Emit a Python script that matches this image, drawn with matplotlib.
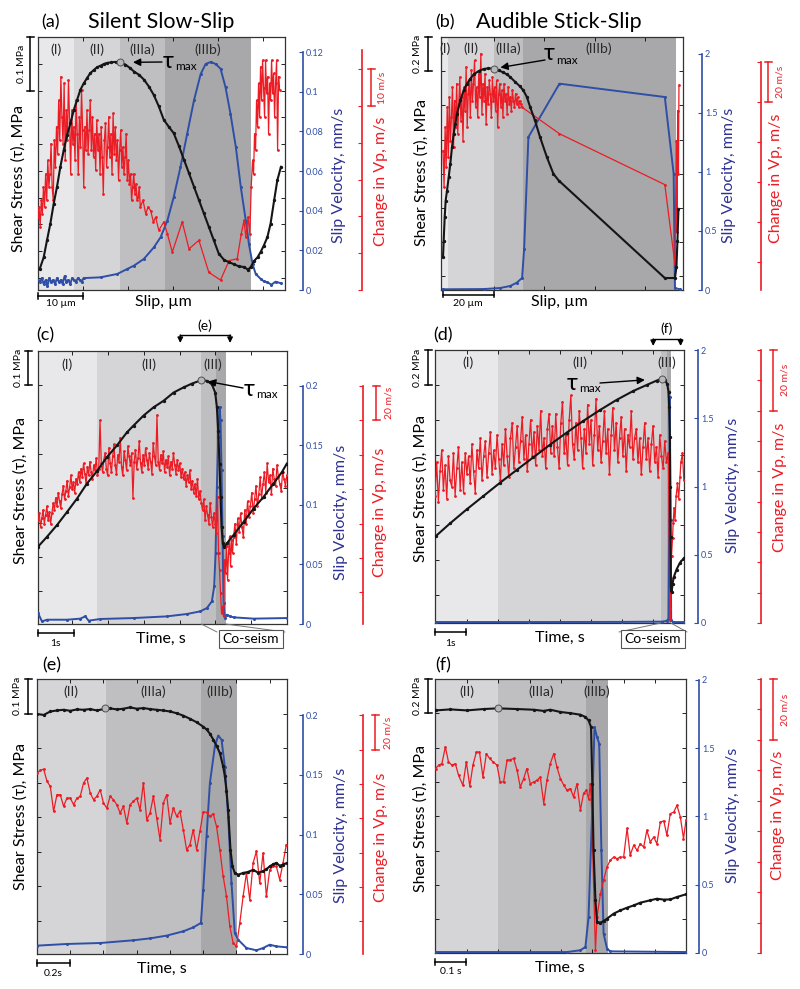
import numpy as np
import matplotlib
matplotlib.use('Agg')
import matplotlib.pyplot as plt
from matplotlib.transforms import blended_transform_factory as blend
from matplotlib.patches import ConnectionPatch
from matplotlib.ticker import FormatStrFormatter

plt.rcParams['font.family'] = ['Lato', 'DejaVu Sans']

W, H = 800, 989
RED = '#ec1c24'
BLUE = '#2f4fa6'
BLUE_T = '#2e3192'
BLACK = '#151515'
C_I, C_II, C_IIIa, C_IIIb = '#e8e8ea', '#d5d5d7', '#bfbfc1', '#a8a8aa'

# ---------------- (a) silent slow-slip, vs slip (um) ----------------
a_phase_x = [0, 7.93, 18.3, 28.1, 47.3]
a_black_x = [0.37, 1.26, 2.0, 2.74, 3.48, 4.22, 4.96, 5.7, 6.44, 7.19, 7.93, 8.67, 9.41, 10.15, 10.9,
             11.6, 12.4, 13.1, 13.9, 14.6, 15.3, 16.1, 17.2, 18.3, 19.4, 20.5, 21.3, 22.4, 23.5, 24.6,
             25.7, 26.8, 27.9, 29.0, 30.1, 31.3, 32.4, 33.5, 34.6, 35.7, 36.8, 37.9, 39.0, 40.1, 41.3,
             42.4, 43.5, 44.6, 45.7, 46.6, 47.2, 47.9, 48.7, 49.4, 50.1, 50.9, 51.6, 52.4, 53.1, 53.9]
a_black_y = [0.039, 0.061, 0.093, 0.124, 0.161, 0.193, 0.230, 0.261, 0.289, 0.311, 0.336, 0.355, 0.374,
             0.386, 0.396, 0.405, 0.411, 0.416, 0.419, 0.422, 0.424, 0.425, 0.426, 0.424, 0.421, 0.414,
             0.408, 0.402, 0.393, 0.380, 0.364, 0.343, 0.318, 0.305, 0.293, 0.268, 0.243, 0.218, 0.193,
             0.168, 0.143, 0.118, 0.093, 0.068, 0.056, 0.052, 0.048, 0.044, 0.043, 0.038, 0.043, 0.054,
             0.061, 0.071, 0.083, 0.099, 0.124, 0.168, 0.205, 0.230]
a_blue_dense = [0.005, 0.004, 0.006, 0.003, 0.005, 0.002, 0.006, 0.004, 0.005, 0.003, 0.006, 0.004, 0.005,
                0.003, 0.007, 0.004, 0.005, 0.003, 0.006, 0.005, 0.004, 0.006, 0.005, 0.004, 0.006]
a_blue_x = [13.9, 17.6, 19.8, 21.3, 23.5, 25.7, 27.2, 28.7, 30.1, 31.6, 33.1, 34.6, 36.1, 37.2, 38.3, 39.4,
            40.5, 41.6, 42.7, 43.9, 45.0, 46.1, 46.8, 47.6, 48.3, 49.4, 50.1, 50.9, 51.8, 52.7, 53.9]
a_blue_y = [0.0064, 0.0081, 0.0106, 0.0123, 0.0157, 0.0215, 0.0266, 0.035, 0.0468, 0.0619, 0.0788, 0.0956,
            0.109, 0.114, 0.115, 0.114, 0.1116, 0.1023, 0.0889, 0.072, 0.0518, 0.035, 0.0232, 0.0131,
            0.0081, 0.0056, 0.0044, 0.0039, 0.0027, 0.0042, 0.0034]
a_red_dense1 = [19.8, 22.5, 17.1, 24.4, 20.7, 28.0, 22.5, 31.6, 24.4, 35.3, 28.0, 31.6, 39.8, 28.0, 24.4,
                40.7, 33.5, 44.4, 37.1, 51.6, 40.7, 58.0, 47.1, 39.8, 56.2, 35.3, 48.9, 40.7, 57.1, 46.2,
                31.6, 48.9, 39.8, 44.4, 35.3, 51.6, 42.5, 31.6, 47.1, 38.9, 54.4, 43.5, 28.0, 44.4, 38.0,
                48.9, 37.1, 43.5, 51.6, 38.0, 47.1, 36.2, 42.5, 32.5, 46.2, 38.0, 42.5, 31.6, 44.4, 36.2,
                26.2, 40.7, 45.3, 33.5, 38.9, 47.1, 36.2, 42.5, 31.6, 48.0, 37.1, 44.4, 35.3, 40.7, 29.8,
                38.0, 43.5, 33.5, 38.9, 31.6, 36.2, 42.5, 29.8, 35.3, 28.9, 31.6, 24.4, 28.0, 31.6, 26.2,
                28.9, 24.4, 25.3, 28.0, 22.5]
a_red_x = [23.3, 23.9, 24.4, 25.0, 25.6, 26.1, 26.8, 27.9, 28.7, 29.8, 32.0, 33.5, 35.7, 37.9, 40.5, 42.4,
           44.2, 45.1, 45.7, 46.1, 46.6, 47.0, 47.3]
a_red_y = [24.4, 20.7, 22.5, 21.6, 18.5, 19.8, 16.2, 18.5, 15.3, 10.3, 18.5, 11.2, 13.5, 4.8, 2.7, 8.0,
           8.5, 15.3, 18.9, 14.4, 19.8, 15.3, 28.0]
a_red_dense2 = [35.3, 31.6, 42.5, 38.0, 51.6, 44.4, 56.2, 47.1, 60.7, 51.6, 62.5, 54.9, 47.1, 62.5, 53.5,
                58.0, 42.5, 56.2, 51.6, 62.5, 53.5, 58.9, 47.1, 56.2, 62.5, 38.0, 58.0, 54.4]

# ---------------- (b) audible stick-slip, vs slip (um) ----------------
b_phase_x = [-0.8, 1.84, 20.0, 31.6, 92.4]
b_black_x = [0, 0.26, 0.66, 1.05, 1.58, 2.24, 2.89, 3.55, 4.21, 4.87, 5.53, 6.84, 8.16, 9.47, 10.8, 12.1,
             14.1, 16.1, 18.0, 20.0, 22.0, 23.9, 25.3, 26.6, 28.6, 30.5, 31.8, 33.2, 34.5, 36.4, 38.4,
             41.1, 43.7, 45.8, 87.8, 91.8, 92.4, 92.8, 93.2]
b_black_y = [0.191, 0.289, 0.425, 0.523, 0.581, 0.660, 0.738, 0.835, 0.913, 0.972, 1.030, 1.108, 1.167,
             1.206, 1.235, 1.260, 1.280, 1.292, 1.296, 1.294, 1.284, 1.272, 1.260, 1.245, 1.216, 1.190,
             1.167, 1.128, 1.069, 0.991, 0.894, 0.777, 0.679, 0.640, 0.070, 0.070, 0.133, 0.289, 0.474]
b_blue_x = [0, 16.1, 22.6, 26.6, 29.2, 31.3, 32.1, 33.8, 46.1, 87.8, 91.3, 91.8, 93.7]
b_blue_y = [0.006, 0.008, 0.017, 0.034, 0.062, 0.102, 0.347, 1.294, 1.746, 1.633, 0.983, 0.017, 0.006]
b_red_dense = [55.8, 37.5, 67.5, 47.5, 77.5, 52.5, 82.5, 60.8, 72.5, 87.5, 57.5, 80.8, 67.5, 89.2, 64.2,
               79.2, 92.5, 70.8, 82.5, 60.8, 87.5, 75.8, 97.5, 67.5, 84.2, 90.8, 72.5, 95.8, 80.8, 89.2,
               100.8, 77.5, 87.5, 72.5, 94.2, 82.5, 104.2, 74.2, 89.2, 80.8, 94.2, 69.2, 87.5, 79.2, 90.8,
               84.2, 72.5, 92.5, 80.8, 87.5, 75.8, 90.8, 67.5, 84.2, 89.2, 77.5, 85.8, 72.5, 89.2, 80.8,
               84.2, 74.2, 87.5, 79.2, 82.5, 75.8, 85.8, 80.8, 77.5, 84.2, 79.2, 82.5, 77.5, 80.8, 79.2, 77.5]
b_red_x = [46.1, 87.8, 91.8, 92.1, 92.4, 92.6, 92.9, 93.2, 93.4]
b_red_y = [64.2, 38.8, -0.8, 30.8, 60.8, 15.0, 75.8, 44.2, 88.3]

# ---------------- (c) silent slow-slip, vs time (s) ----------------
c_phase_x = [0.047, 1.693, 4.605, 5.023, 5.284]
c_black_x = [0.047, 0.298, 0.577, 0.856, 1.135, 1.414, 1.693, 1.972, 2.251, 2.530, 2.716, 2.995, 3.274,
             3.553, 3.833, 4.112, 4.344, 4.605, 4.763, 4.902, 4.995, 5.042, 5.079, 5.116, 5.144, 5.172,
             5.209, 5.247, 5.321, 5.507, 5.786, 6.065, 6.344, 6.623, 6.856, 6.995]
c_black_y = [0.230, 0.259, 0.293, 0.331, 0.370, 0.414, 0.450, 0.491, 0.525, 0.563, 0.583, 0.612, 0.636,
             0.655, 0.679, 0.694, 0.705, 0.715, 0.713, 0.703, 0.679, 0.636, 0.568, 0.472, 0.375, 0.288,
             0.240, 0.228, 0.240, 0.264, 0.302, 0.341, 0.375, 0.414, 0.447, 0.472]
c_blue_x = [0.047, 0.158, 0.298, 0.856, 1.228, 1.367, 1.460, 1.786, 2.716, 3.647, 4.205, 4.577, 4.763,
            4.902, 4.967, 5.005, 5.042, 5.079, 5.116, 5.144, 5.172, 5.200, 5.228, 5.265, 5.321, 5.414,
            5.507, 6.065, 6.995]
c_blue_y = [0.0092, 0.0022, 0.0036, 0.0036, 0.0045, 0.0064, 0.0028, 0.0042, 0.005, 0.0064, 0.0084, 0.0106,
            0.0134, 0.019, 0.0316, 0.0595, 0.115, 0.157, 0.182, 0.171, 0.129, 0.0735, 0.0176, 0.005,
            0.0078, 0.0064, 0.0056, 0.0045, 0.005]
c_red_dense1 = [62, 66, 58, 63, 68, 60, 65, 70, 62, 67, 60, 66,
                72, 68, 75, 70, 78, 73, 69, 77, 82, 74, 79, 85, 76, 81, 88, 80, 84, 78, 86, 83,
                90, 84, 92, 87, 95, 89, 83, 93, 88, 96, 90, 86, 94, 91, 98, 88, 92, 120, 95, 90,
                97, 101, 92, 88, 104, 95, 90, 99, 106, 94, 89, 100, 96, 110, 93, 88, 102, 97, 91, 105,
                99, 94, 101, 75, 96, 103, 92, 98, 108, 95, 90, 100, 94, 104, 97, 92, 101, 96, 89, 107,
                99, 94, 123, 96, 91, 100, 95, 102, 90, 97, 93, 99, 88, 96, 92, 101, 94, 89, 97, 91, 95, 87,
                92, 86, 90, 82, 88, 84, 91, 80, 85, 78, 83, 76, 86, 74, 79, 72,
                68, 74, 62, 70, 65, 60, 72, 64, 58, 66, 60]
c_red_x = [5.023, 5.060, 5.088, 5.116, 5.144, 5.172, 5.200, 5.228, 5.256, 5.284, 5.312, 5.340, 5.367,
           5.395, 5.423, 5.451, 5.479]
c_red_y = [54.4, 75.7, 42.8, 33.1, 19.6, 8.0, 11.9, 6.1, 38.9, 31.2, 46.7, 27.4, 42.8, 52.5, 35.1, 50.5, 42.8]
c_red_dense2 = [52, 60, 48, 63, 55, 66, 58, 52, 68, 60, 73, 64, 70, 78, 66, 74, 82, 70, 77, 87, 75, 83, 90,
                78, 95, 84, 88, 77, 92, 86, 82, 94, 87, 83, 79, 90, 86, 82, 88]

# ---------------- (d) audible stick-slip, vs time (s) ----------------
d_phase_x = [-0.02, 1.994, 7.245, 7.428, 7.567]
d_black_x = [0, 0.461, 0.997, 1.533, 2.069, 2.605, 3.140, 3.676, 4.212, 4.748, 5.284, 5.820, 6.356, 6.785,
             7.106, 7.267, 7.374, 7.449, 7.492, 7.513, 7.535, 7.546, 7.556, 7.567, 7.588, 7.621, 7.663,
             7.749, 7.856, 7.985]
d_black_y = [0.531, 0.604, 0.684, 0.760, 0.836, 0.909, 0.981, 1.053, 1.122, 1.189, 1.251, 1.309, 1.360,
             1.394, 1.419, 1.430, 1.423, 1.400, 1.356, 1.270, 1.099, 0.813, 0.528, 0.242, 0.213, 0.261,
             0.299, 0.341, 0.379, 0.406]
d_blue_x = [0, 3.0, 6.0, 7.267, 7.428, 7.492, 7.513, 7.535, 7.556, 7.578, 7.642, 7.985]
d_blue_y = [0.007, 0.007, 0.008, 0.010, 0.015, 0.032, 0.753, 1.658, 0.753, 0.020, 0.007, 0.007]
d_red_dense = [42, 53, 40, 50, 57, 44, 52, 41, 55, 47, 45, 56, 42, 51, 58, 44, 53, 43, 56, 49,
               55, 46, 59, 50, 43, 57, 51, 61, 47, 55, 60, 48, 56, 63, 49, 57, 51, 62, 54, 47,
               59, 52, 64, 55, 48, 61, 66, 51, 58, 65, 53, 60, 68, 54, 62, 50, 59, 67, 55, 63,
               52, 65, 57, 70, 55, 61, 51, 64, 69, 56,
               65, 55, 69, 58, 51, 66, 73, 56, 62, 52, 67, 75, 59, 54, 66, 57, 70, 61, 51, 64,
               56, 72, 59, 67, 52, 62, 74, 57, 65, 53, 60, 70, 56, 64, 49, 62, 71, 57, 66, 53,
               61, 68, 55, 64, 50, 62, 58, 70, 54, 61,
               64, 53, 61, 49, 58, 66, 54, 61, 50, 59, 65, 53, 58, 48, 62, 55, 51, 60, 53, 56]
d_red_x = [7.492, 7.513, 7.535, 7.546, 7.567, 7.588, 7.621, 7.642, 7.67, 7.70, 7.738, 7.78, 7.82, 7.86,
           7.89, 7.94, 7.985]
d_red_y = [50, 30, 5, 1, 15, 22, 28, 33, 38, 34, 42, 46, 41, 48, 53, 56, 47]

# ---------------- (e) zoom of (c) ----------------
e_phase_x = [0, 0.416, 0.986, 1.204]
e_black_dense = [0.697, 0.694, 0.704, 0.707, 0.709, 0.706, 0.710, 0.709, 0.711, 0.707, 0.711, 0.713, 0.710,
                 0.712, 0.716, 0.712, 0.714, 0.711, 0.709, 0.707, 0.704, 0.699, 0.692, 0.683, 0.673]
e_black_x = [1.0, 1.02, 1.04, 1.06, 1.08, 1.10, 1.12, 1.13, 1.14, 1.15, 1.164, 1.176, 1.19, 1.21, 1.24,
             1.27, 1.30, 1.33, 1.36, 1.38, 1.40, 1.42, 1.44, 1.46, 1.48, 1.504]
e_black_y = [0.660, 0.652, 0.640, 0.623, 0.605, 0.584, 0.545, 0.517, 0.475, 0.420, 0.304, 0.256, 0.237,
             0.232, 0.237, 0.240, 0.246, 0.238, 0.242, 0.248, 0.256, 0.262, 0.266, 0.258, 0.261, 0.266]
e_blue_x = [0, 0.18, 0.38, 0.58, 0.68, 0.78, 0.88, 0.94, 0.986, 1.0, 1.02, 1.04, 1.07, 1.09, 1.11, 1.13,
            1.15, 1.17, 1.19, 1.21, 1.26, 1.32, 1.36, 1.40, 1.44, 1.504]
e_blue_y = [0.007, 0.0084, 0.0092, 0.0115, 0.0131, 0.0154, 0.019, 0.0223, 0.026, 0.0539, 0.0986, 0.143,
            0.174, 0.183, 0.1796, 0.157, 0.115, 0.0595, 0.0176, 0.012, 0.005, 0.0031, 0.005, 0.0078,
            0.0064, 0.0056]
e_red = [106.4, 108.0, 108.7, 101.6, 98.6, 84.1, 93.8, 93.8, 87.0, 91.8,
         91.8, 88.0, 91.8, 92.8, 100.6, 103.5, 94.8, 90.9, 92.8, 96.7,
         88.9, 86.0, 92.8, 90.9, 88.0, 83.1, 87.0, 77.3, 88.0, 89.9,
         91.8, 85.0, 100.6, 79.2, 83.1, 92.8, 80.2, 67.6, 88.9, 93.8,
         77.3, 86.0, 81.2, 84.1, 73.4, 61.7, 64.7, 73.4, 61.7, 72.4,
         83.7, 83.5, 81.2, 82.7, 75.3, 61.7, 46.2, 34.6, 17.1, 7.4,
         5.4, 19.0, 34.6, 48.2, 32.6, 54.0, 60.8, 42.3, 59.8, 34.6,
         50.1, 52.0, 52.0, 44.3, 54.0, 64.7]

# ---------------- (f) zoom of (d) ----------------
f_phase_x = [-0.002, 0.199, 0.479, 0.549]
f_black_x = [0, 0.047, 0.100, 0.153, 0.198, 0.260, 0.313, 0.345, 0.366, 0.398, 0.430, 0.462, 0.478, 0.488,
             0.496, 0.500, 0.504, 0.510, 0.515, 0.526, 0.536, 0.547, 0.568, 0.589, 0.611, 0.632, 0.653,
             0.685, 0.706, 0.728, 0.749, 0.770, 0.799]
f_black_y = [1.419, 1.425, 1.419, 1.427, 1.431, 1.427, 1.423, 1.416, 1.423, 1.410, 1.403, 1.394, 1.381,
             1.361, 1.322, 0.992, 0.604, 0.313, 0.186, 0.183, 0.192, 0.206, 0.235, 0.254, 0.270, 0.283,
             0.299, 0.313, 0.322, 0.317, 0.318, 0.332, 0.348]
f_blue_x = [0, 0.419, 0.462, 0.478, 0.488, 0.499, 0.507, 0.515, 0.522, 0.529, 0.536, 0.547, 0.557, 0.799]
f_blue_y = [0.007, 0.007, 0.020, 0.044, 0.263, 0.995, 1.654, 1.580, 1.532, 0.751, 0.141, 0.032, 0.012, 0.007]
f_red_x = [0, 0.0096, 0.020, 0.031, 0.041, 0.052, 0.063, 0.073, 0.087, 0.098, 0.109, 0.119, 0.130, 0.140,
           0.151, 0.162, 0.172, 0.183, 0.196, 0.206, 0.217, 0.228, 0.238, 0.249, 0.260, 0.270, 0.281,
           0.291, 0.302, 0.313, 0.323, 0.334, 0.345, 0.355, 0.366, 0.377, 0.387, 0.398, 0.409, 0.419,
           0.430, 0.440, 0.451, 0.462, 0.472, 0.481, 0.488, 0.494, 0.499, 0.504, 0.510, 0.515, 0.526,
           0.536, 0.547, 0.557, 0.568, 0.579, 0.589, 0.600, 0.611, 0.621, 0.632, 0.643, 0.653, 0.664,
           0.674, 0.685, 0.696, 0.706, 0.717, 0.728, 0.738, 0.749, 0.760, 0.770, 0.781, 0.791, 0.799]
f_red_y = [60.6, 61.7, 62.2, 67.7, 62.8, 61.7, 62.2, 58.4, 55.1, 62.8, 54.8, 61.7, 66.0, 66.0, 57.8, 65.5,
           63.9, 62.8, 61.7, 56.2, 56.2, 63.3, 63.5, 63.9, 60.0, 54.5, 57.3, 60.6, 55.6, 56.2, 56.7, 57.8,
           49.1, 56.7, 62.2, 65.5, 61.1, 57.3, 55.1, 53.5, 54.0, 51.3, 55.6, 46.9, 52.4, 53.5, 50.7, 55.6,
           44.7, 22.8, 0.9, 11.8, 19.5, 23.9, 28.3, 30.4, 31.5, 31.0, 31.5, 31.5, 40.9, 32.1, 35.4, 33.7,
           35.9, 34.8, 40.3, 36.5, 38.1, 35.9, 43.0, 43.4, 38.7, 45.8, 46.3, 48.5, 44.7, 37.6, 43.6]

fig = plt.figure(figsize=(8, 9.89), dpi=100)


def fy(py):
    return 1 - py / H


def make_panel(box, xlim, klim, kstep, blim, bbound, bticks, rlim, rbound, rticks, xticks, boff, roff):
    l, t, r, b = box
    ax = fig.add_axes([l / W, 1 - b / H, (r - l) / W, (b - t) / H])
    axb = ax.twinx()
    axr = ax.twinx()
    axk = ax.twinx()
    ax.set_xlim(xlim)
    ax.set_ylim(klim)
    axk.set_ylim(klim)
    axk.axis('off')
    n = int(round((klim[1] - klim[0]) / kstep))
    ax.set_yticks(klim[1] - kstep * np.arange(n + 1))
    ax.set_ylim(klim)
    ax.set_xticks(xticks)
    ax.tick_params(axis='both', which='both', direction='in', length=3, width=0.6, top=True, right=True,
                   labelleft=False, labelbottom=False, labelright=False, labeltop=False)
    for s in ax.spines.values():
        s.set_linewidth(0.9)
        s.set_color('#333333')
    for axo, col, lim, bnd, tks, off in ((axb, BLUE, blim, bbound, bticks, boff),
                                          (axr, RED, rlim, rbound, rticks, roff)):
        for s in ('left', 'top', 'bottom'):
            axo.spines[s].set_visible(False)
        sp = axo.spines['right']
        sp.set_position(('outward', off * 0.72))
        sp.set_color(col)
        sp.set_linewidth(1.2)
        axo.set_ylim(lim)
        sp.set_bounds(*bnd)
        axo.set_yticks(tks)
        axo.set_ylim(lim)
        axo.tick_params(axis='y', direction='in', length=3, width=0.8, colors=col, labelsize=6.5, pad=2)
        axo.yaxis.set_major_formatter(FormatStrFormatter('%g'))
    axr.tick_params(axis='y', labelright=False)
    return ax, axb, axr, axk


def shade(ax, edges, colors):
    for x0, x1, c in zip(edges[:-1], edges[1:], colors):
        ax.axvspan(x0, x1, color=c, lw=0, zorder=0)


def phase_labels(ax, labels, xs, py):
    tr = blend(ax.transData, fig.transFigure)
    for lab, x in zip(labels, xs):
        ax.text(x, fy(py), lab, transform=tr, ha='center', va='center', fontsize=10, color='#2a2a2a')


def kbar(ax, px, top, step, label, lx):
    tr = blend(fig.transFigure, ax.transData)
    kw = dict(color='k', lw=1.1, transform=tr, clip_on=False)
    ax.plot([px / W] * 2, [top, top - step], **kw)
    for yv in (top, top - step):
        ax.plot([(px - 3.5) / W, (px + 3.5) / W], [yv, yv], **kw)
    ax.text(lx / W, top - step / 2, label, transform=tr, rotation=90, ha='center', va='center', fontsize=7.5)


def rbar(axr, px, y0, y1, label, lx):
    tr = blend(fig.transFigure, axr.transData)
    kw = dict(color=RED, lw=1.1, transform=tr, clip_on=False)
    axr.plot([px / W] * 2, [y0, y1], **kw)
    for yv in (y0, y1):
        axr.plot([(px - 3.5) / W, (px + 3.5) / W], [yv, yv], **kw)
    axr.text(lx / W, (y0 + y1) / 2, label, transform=tr, rotation=90, ha='center', va='center',
             fontsize=7.5, color=RED)


def xbar(ax, x0, length, py, label, ly):
    tr = blend(ax.transData, fig.transFigure)
    kw = dict(color='k', lw=1.1, transform=tr, clip_on=False)
    ax.plot([x0, x0 + length], [fy(py)] * 2, **kw)
    for xv in (x0, x0 + length):
        ax.plot([xv, xv], [fy(py - 3), fy(py + 3)], **kw)
    ax.text(x0 + length / 2, fy(ly), label, transform=tr, ha='center', va='center', fontsize=7.5)


def labels3(kx, ky, bx, by, rx, ry, xl, xlx, xly):
    fig.text(kx / W, fy(ky), 'Shear Stress (τ), MPa', rotation=90, ha='center', va='center', fontsize=11.5)
    fig.text(bx / W, fy(by), 'Slip Velocity, mm/s', rotation=90, ha='center', va='center', fontsize=11.5,
             color=BLUE_T)
    fig.text(rx / W, fy(ry), 'Change in Vp, m/s', rotation=90, ha='center', va='center', fontsize=11.5,
             color=RED)
    fig.text(xlx / W, fy(xly), xl, ha='center', va='center', fontsize=11.5)


def tau(axk, x, y, shrink, ax0, ay0, tpx, tpy):
    axk.plot([x], [y], 'o', ms=5, mfc='#b8b8b8', mec='#505050', mew=0.7, zorder=6)
    axk.annotate('', xy=(x, y), xycoords='data', xytext=(ax0 / W, fy(ay0)), textcoords='figure fraction',
                 arrowprops=dict(arrowstyle='-|>', color='k', lw=1.0, mutation_scale=11, shrinkA=0,
                                 shrinkB=shrink), annotation_clip=False)
    fig.text(tpx / W, fy(tpy), 'τ', fontsize=17, ha='center', va='center')
    fig.text((tpx + 7) / W, fy(tpy + 6), 'max', fontsize=8.5, ha='left', va='center')


def series(axk, axb, axr, kx, ky, bx, by, rx, ry):
    axb.plot(bx, by, color=BLUE, lw=1.4, marker='.', ms=2.4)
    axr.plot(rx, ry, color=RED, lw=0.9, marker='.', ms=2.0)
    axk.plot(kx, ky, color=BLACK, lw=1.5, marker='.', ms=2.8)


def coseism(ax, cx, cy, xa, xb, pa, pb):
    fig.text(cx / W, fy(cy), 'Co-seism', ha='center', va='center', fontsize=10,
             bbox=dict(boxstyle='square,pad=0.25', fc='white', ec='#555555', lw=0.8))
    y0 = ax.get_ylim()[0]
    for xv, (px, py) in ((xa, pa), (xb, pb)):
        fig.add_artist(ConnectionPatch(xyA=(xv, y0), coordsA=ax.transData, xyB=(px / W, fy(py)),
                                       coordsB=fig.transFigure, color='#777777', lw=0.7))


def bracket(ax, x0, x1, py, ptip, label, ly):
    tr = blend(ax.transData, fig.transFigure)
    ax.plot([x0, x1], [fy(py)] * 2, color='k', lw=1.0, transform=tr, clip_on=False)
    for xv in (x0, x1):
        ax.annotate('', xy=(xv, fy(ptip)), xycoords=tr, xytext=(xv, fy(py)), textcoords=tr,
                    arrowprops=dict(arrowstyle='-|>', color='k', lw=1.0, mutation_scale=8, shrinkA=0,
                                    shrinkB=0), annotation_clip=False)
    ax.text((x0 + x1) / 2, fy(ly), label, transform=tr, ha='center', va='center', fontsize=10)


# ---------------- panel (a) ----------------
ax, axb, axr, axk = make_panel((38, 37, 285, 290), (0, 54.8), (0, 0.4725), 0.05, (0, 0.1276), (0, 0.12),
                               [0, 0.02, 0.04, 0.06, 0.08, 0.1, 0.12], (0, 68.8), (0, 65.2),
                               np.arange(0, 61, 10), [10, 20, 30, 40, 50], 18, 77)
shade(ax, a_phase_x, [C_I, C_II, C_IIIa, C_IIIb])
phase_labels(ax, ['(I)', '(II)', '(IIIa)', '(IIIb)'], [4.1, 13.1, 23.1, 37.7], 50)
series(axk, axb, axr, a_black_x, a_black_y,
       np.concatenate([np.linspace(0, 10.1, len(a_blue_dense)), a_blue_x]),
       np.concatenate([a_blue_dense, a_blue_y]),
       np.concatenate([np.linspace(0, 22.7, len(a_red_dense1)), a_red_x,
                       np.linspace(47.6, 53.6, len(a_red_dense2))]),
       np.concatenate([a_red_dense1, a_red_y, a_red_dense2]))
tau(axk, 18.3, 0.425, 9, 162, 62, 168, 61)
kbar(ax, 30, 0.4725, 0.1, '0.1 MPa', 21)
rbar(axr, 371, 50, 60, '10 m/s', 382)
xbar(ax, 0, 10, 295.5, '10 µm', 304)
labels3(19, 178, 339, 175, 381, 181, 'Slip, µm', 163, 302)
fig.text(51 / W, fy(22), '(a)', fontsize=13, ha='center', va='center')
fig.text(161 / W, fy(22), 'Silent Slow-Slip', fontsize=15.5, ha='center', va='center')

# ---------------- panel (b) ----------------
ax, axb, axr, axk = make_panel((441, 37, 683, 290), (-0.8, 95.0), (0, 1.479), 0.2, (0, 2.141), (0, 2),
                               [0, 0.5, 1, 1.5, 2], (-13.8, 112.5), (-13.8, 100), np.arange(0, 101, 20),
                               [20, 40, 60, 80], 19, 78)
shade(ax, b_phase_x, [C_I, C_II, C_IIIa, C_IIIb])
phase_labels(ax, ['(I)', '(II)', '(IIIa)', '(IIIb)'], [0.66, 11.0, 25.9, 61.8], 49)
series(axk, axb, axr, b_black_x, b_black_y, b_blue_x, b_blue_y,
       np.concatenate([np.linspace(0, 31.2, len(b_red_dense)), b_red_x]),
       np.concatenate([b_red_dense, b_red_y]))
tau(axk, 20.0, 1.294, 5, 545, 60, 549, 54)
kbar(ax, 428, 1.479, 0.2, '0.2 MPa', 418)
rbar(axr, 768, 80, 100, '20 m/s', 780)
xbar(ax, 0, 20, 294.5, '20 µm', 304)
labels3(422, 172, 729, 175, 776, 178, 'Slip, µm', 559, 302)
fig.text(445 / W, fy(22), '(b)', fontsize=13, ha='center', va='center')
fig.text(559 / W, fy(22), 'Audible Stick-Slip', fontsize=15.5, ha='center', va='center')

# ---------------- panel (c) ----------------
ax, axb, axr, axk = make_panel((38, 351, 287, 624), (0.047, 7.0), (0.005, 0.8), 0.1, (0, 0.2293), (0, 0.2),
                               [0, 0.05, 0.1, 0.15, 0.2], (1.64, 160.3), (1.64, 140),
                               np.arange(20, 141, 20), [1, 2, 3, 4, 5, 6], 16, 76)
shade(ax, c_phase_x, [C_I, C_II, C_IIIa, C_IIIb])
phase_labels(ax, ['(I)', '(II)', '(III)'], [0.86, 3.13, 4.92], 365)
series(axk, axb, axr, c_black_x, c_black_y, c_blue_x, c_blue_y,
       np.concatenate([np.linspace(0.047, 4.995, len(c_red_dense1)), c_red_x,
                       np.linspace(5.507, 6.995, len(c_red_dense2))]),
       np.concatenate([c_red_dense1, c_red_y, c_red_dense2]))
tau(axk, 4.605, 0.715, 5, 243, 388, 249, 389)
kbar(ax, 28, 0.8, 0.1, '0.1 MPa', 18.5)
rbar(axr, 376, 120, 140, '20 m/s', 389)
xbar(ax, 0.047, 1, 632.7, '1s', 643)
labels3(21, 490, 341, 512, 380, 512, 'Time, s', 161, 639)
fig.text(45 / W, fy(335), '(c)', fontsize=13, ha='center', va='center')
coseism(ax, 251, 639, 4.605, 5.284, (217, 632), (285, 632))
bracket(ax, 4.02, 5.41, 335, 343, '(e)', 326)

# ---------------- panel (d) ----------------
ax, axb, axr, axk = make_panel((435, 350, 684, 623), (-0.02, 7.99), (0.036, 1.594), 0.2, (0, 2.0), (0, 2),
                               [0, 0.5, 1, 1.5, 2], (0, 90), (0, 90), np.arange(0, 91, 10),
                               [1, 2, 3, 4, 5, 6, 7], 14, 77)
shade(ax, d_phase_x, [C_I, C_II, C_IIIa, C_IIIb])
phase_labels(ax, ['(I)', '(II)', '(III)'], [1.05, 4.64, 7.43], 363)
series(axk, axb, axr, d_black_x, d_black_y, d_blue_x, d_blue_y,
       np.concatenate([np.linspace(-0.02, 7.48, len(d_red_dense)), d_red_x]),
       np.concatenate([d_red_dense, d_red_y]))
tau(axk, 7.267, 1.430, 12, 600, 383, 572, 383)
kbar(ax, 428, 1.594, 0.2, '0.2 MPa', 418)
rbar(axr, 773, 70, 90, '20 m/s', 785)
xbar(ax, -0.02, 1, 632, '1s', 643)
labels3(421, 488, 733, 485, 780, 487, 'Time, s', 560, 638)
fig.text(443 / W, fy(335), '(d)', fontsize=13, ha='center', va='center')
coseism(ax, 653, 639, 7.245, 7.567, (619, 632), (687, 632))
bracket(ax, 7.0, 7.88, 339, 346, '(f)', 329)

# ---------------- panel (e) ----------------
ax, axb, axr, axk = make_panel((37, 679, 287, 954), (0, 1.504), (0.0026, 0.798), 0.1, (0, 0.2304), (0, 0.2),
                               [0, 0.05, 0.1, 0.15, 0.2], (0.97, 161.2), (0.97, 140),
                               np.arange(20, 141, 20), [0.2, 0.4, 0.6, 0.8, 1.0, 1.2, 1.4], 16, 76)
shade(ax, e_phase_x, [C_II, C_IIIa, C_IIIb])
phase_labels(ax, ['(II)', '(IIIa)', '(IIIb)'], [0.206, 0.70, 1.10], 692)
series(axk, axb, axr,
       np.concatenate([np.linspace(0, 0.96, len(e_black_dense)), e_black_x]),
       np.concatenate([e_black_dense, e_black_y]),
       e_blue_x, e_blue_y, np.linspace(0, 1.50, len(e_red)), e_red)
axk.plot([0.41], [0.714], 'o', ms=5, mfc='#b8b8b8', mec='#505050', mew=0.7, zorder=6)
kbar(ax, 28, 0.798, 0.1, '0.1 MPa', 18)
rbar(axr, 375, 120, 140, '20 m/s', 388)
xbar(ax, 0, 0.2, 962.7, '0.2s', 973)
labels3(21, 817, 341, 835, 381, 837, 'Time, s', 162, 969)
fig.text(52 / W, fy(665), '(e)', fontsize=13, ha='center', va='center')

# ---------------- panel (f) ----------------
ax, axb, axr, axk = make_panel((435, 679, 686, 953), (-0.002, 0.799), (0.006, 1.602), 0.2, (0, 2.005), (0, 2),
                               [0, 0.5, 1, 1.5, 2], (0, 90.0), (0, 90), np.arange(0, 91, 10),
                               [0.1, 0.2, 0.3, 0.4, 0.5, 0.6, 0.7], 13, 75)
shade(ax, f_phase_x, [C_II, C_IIIa, C_IIIb])
phase_labels(ax, ['(II)', '(IIIa)', '(IIIb)'], [0.1, 0.337, 0.515], 692)
series(axk, axb, axr, f_black_x, f_black_y, f_blue_x, f_blue_y, f_red_x, f_red_y)
axk.plot([0.198], [1.431], 'o', ms=5, mfc='#b8b8b8', mec='#505050', mew=0.7, zorder=6)
kbar(ax, 428, 1.602, 0.2, '0.2 MPa', 418)
rbar(axr, 773, 70, 90, '20 m/s', 785)
xbar(ax, -0.002, 0.1, 961.7, '0.1 s', 972)
labels3(421, 819, 733, 815, 778, 815, 'Time, s', 560, 968)
fig.text(443 / W, fy(665), '(f)', fontsize=13, ha='center', va='center')

fig.savefig('out.png', dpi=100, facecolor='white')
